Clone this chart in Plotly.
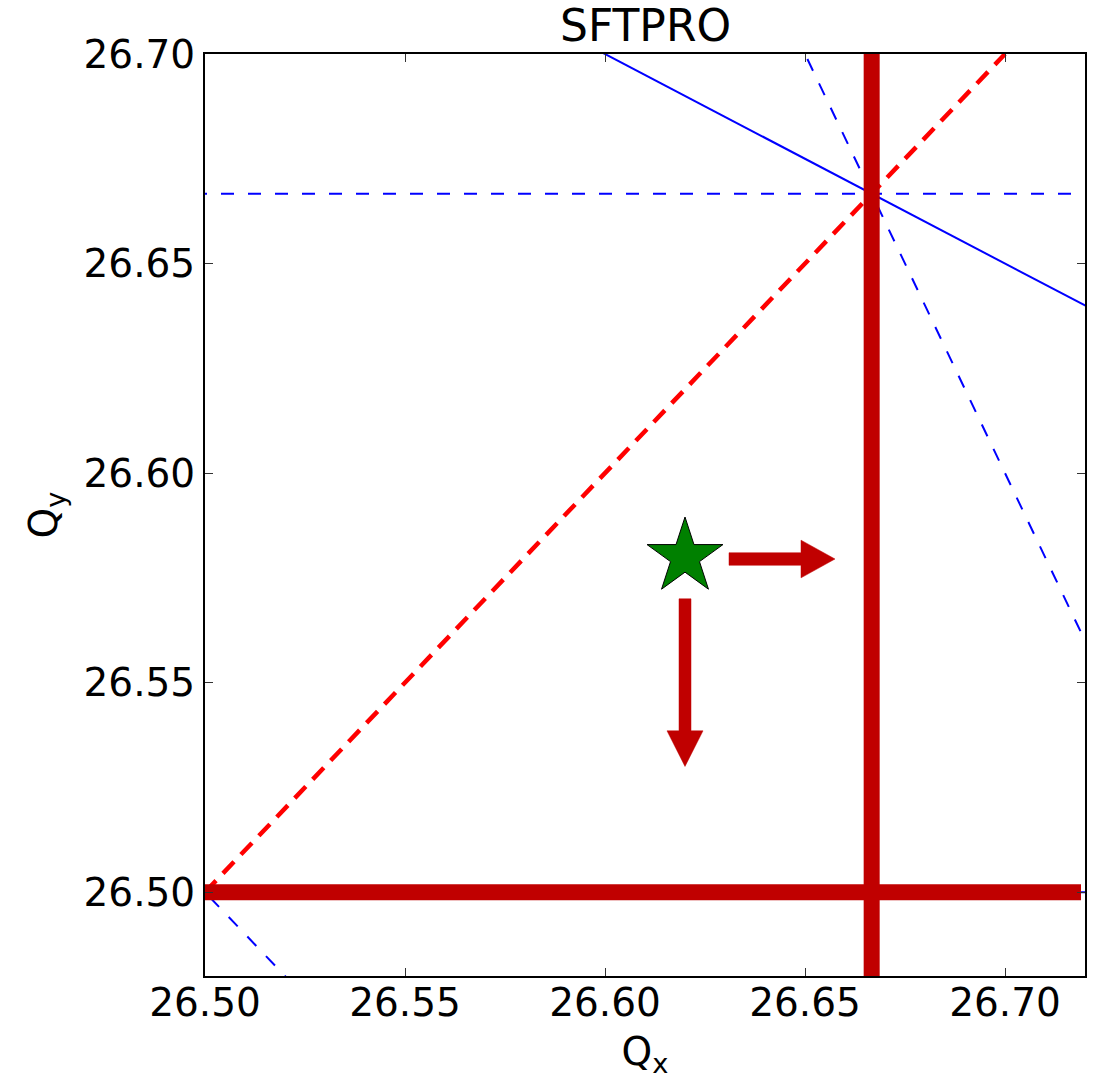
import plotly.graph_objects as go

# Axis limits and ticks
qx_range = [26.50, 26.72]
qy_range = [26.48, 26.70]
tick_vals = [26.50, 26.55, 26.60, 26.65, 26.70]
tick_text = ["26.50", "26.55", "26.60", "26.65", "26.70"]

# Resonance lines a*Qx + b*Qy = c, with line style
res_a = [1, 0, 2, 1, 0, 1, 3]
res_b = [2, 3, 1, 1, 2, 0, 0]
res_c = [80, 80, 80, 53, 53, 53, 80]
res_dash = ["solid", "dash", "dash", "dash", "solid", "solid", "solid"]

# Coupling (diagonal) line
diag_q = [26.50, 26.70]

# Integer / third-integer stop-band lines drawn in thick red
stop_qx = 80 / 3
stop_qy = 26.50
stop_qy_xend = 26.719

# Working point
wp_qx = [26.62]
wp_qy = [26.58]

# Arrows: tail and tip of each
arrow_tail = [(26.631, 26.5795), (26.62, 26.57)]
arrow_tip = [(26.6575, 26.5795), (26.62, 26.53)]
arrow_width = 0.003
arrow_head_width = 0.009
arrow_head_length = 0.0085

RED = "#C00000"
BLUE = "#0000FF"
FONT = "DejaVu Sans"

fig = go.Figure()


def resonance_points(a, b, c):
    """Endpoints of a*Qx + b*Qy = c across the visible window."""
    if b == 0:
        x = c / a
        return [x, x], [qy_range[0] - 0.05, qy_range[1] + 0.05]
    xs = [qx_range[0] - 0.05, qx_range[1] + 0.05]
    ys = [(c - a * x) / b for x in xs]
    return xs, ys


for a, b, c, d in zip(res_a, res_b, res_c, res_dash):
    xs, ys = resonance_points(a, b, c)
    fig.add_trace(go.Scatter(
        x=xs, y=ys, mode="lines",
        line=dict(color=BLUE, width=2,
                  dash="13px,14px" if d == "dash" else "solid"),
        hoverinfo="skip", showlegend=False))

fig.add_trace(go.Scatter(
    x=diag_q, y=diag_q, mode="lines",
    line=dict(color="#FF0000", width=4.5, dash="16px,10px"),
    hoverinfo="skip", showlegend=False))

# Thick red stop-band lines
fig.add_trace(go.Scatter(
    x=[stop_qx, stop_qx], y=[qy_range[0] - 0.01, qy_range[1] + 0.01],
    mode="lines", line=dict(color=RED, width=16),
    hoverinfo="skip", showlegend=False))
fig.add_trace(go.Scatter(
    x=[qx_range[0], stop_qy_xend], y=[stop_qy, stop_qy],
    mode="lines", line=dict(color=RED, width=16),
    hoverinfo="skip", showlegend=False))


def arrow_polygon(tail, tip, w, hw, hl):
    """Outline of a block arrow from tail to tip (axis-aligned)."""
    (x0, y0), (x1, y1) = tail, tip
    if y0 == y1:
        s = 1 if x1 > x0 else -1
        xb = x1 - s * hl
        xs = [x0, xb, xb, x1, xb, xb, x0, x0]
        ys = [y0 - w / 2, y0 - w / 2, y0 - hw / 2, y0,
              y0 + hw / 2, y0 + w / 2, y0 + w / 2, y0 - w / 2]
    else:
        s = 1 if y1 > y0 else -1
        yb = y1 - s * hl
        ys = [y0, yb, yb, y1, yb, yb, y0, y0]
        xs = [x0 - w / 2, x0 - w / 2, x0 - hw / 2, x0,
              x0 + hw / 2, x0 + w / 2, x0 + w / 2, x0 - w / 2]
    return xs, ys


for tail, tip in zip(arrow_tail, arrow_tip):
    xs, ys = arrow_polygon(tail, tip, arrow_width,
                           arrow_head_width, arrow_head_length)
    fig.add_trace(go.Scatter(
        x=xs, y=ys, mode="lines", fill="toself", fillcolor=RED,
        line=dict(color=RED, width=0.5),
        hoverinfo="skip", showlegend=False))

fig.add_trace(go.Scatter(
    x=wp_qx, y=wp_qy, mode="markers",
    marker=dict(symbol="star", size=57, color="green",
                line=dict(color="black", width=1)),
    hoverinfo="skip", showlegend=False))

axis_common = dict(
    showgrid=False, zeroline=False,
    showline=True, linecolor="black", linewidth=2, mirror="ticks",
    ticks="inside", ticklen=8, tickwidth=1.2, tickcolor="#333333",
    tickvals=tick_vals, ticktext=tick_text,
    tickfont=dict(family=FONT, size=39, color="black"),
)

fig.update_layout(
    width=1097, height=1079,
    margin=dict(l=205, r=10, t=54, b=103),
    paper_bgcolor="white", plot_bgcolor="white",
    title=dict(text="SFTPRO", x=0.5885, xanchor="center",
               y=1, yref="paper", yanchor="bottom", pad=dict(b=13),
               font=dict(family=FONT, size=44, color="black")),
    xaxis=dict(range=qx_range, ticklabelstandoff=-9,
               title=dict(text="Q<sub>x</sub>", standoff=14,
                          font=dict(family=FONT, size=39, color="black")),
               **axis_common),
    yaxis=dict(range=qy_range,
               title=dict(text="Q<sub>y</sub>", standoff=14,
                          font=dict(family=FONT, size=39, color="black")),
               **axis_common),
)

fig.write_html("out.html")
